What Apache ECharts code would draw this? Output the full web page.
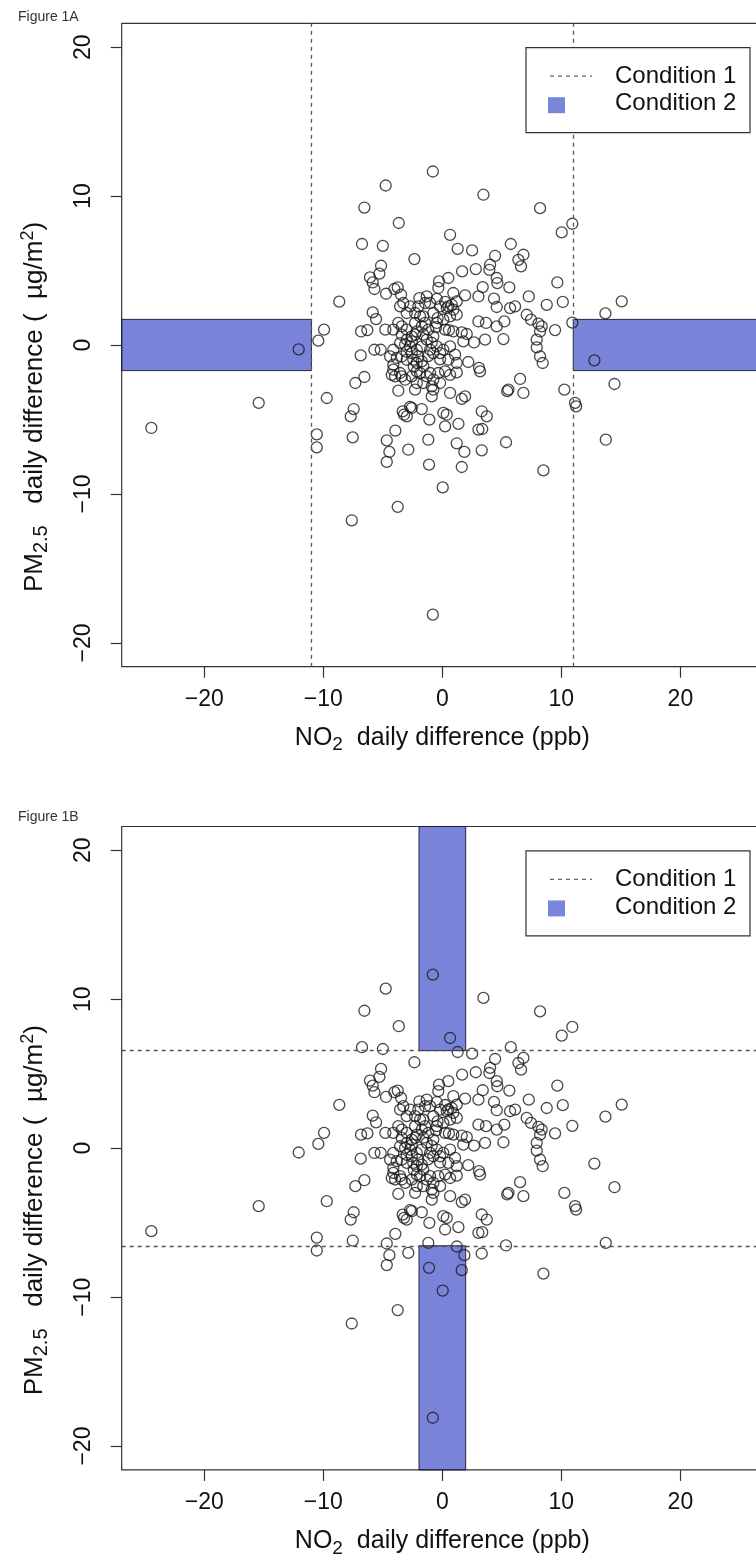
<!DOCTYPE html>
<html><head><meta charset="utf-8">
<script src="https://cdn.jsdelivr.net/npm/echarts@6/dist/echarts.min.js"></script>
<style>html,body{margin:0;padding:0;background:#fff}#c{width:756px;height:1559px}</style>
</head><body><div id="c"></div>
<script>
// ---- data ----
const no2Diff = [
 -24.45,-15.43,-12.07,-10.42,-9.94,-10.55,-10.55,-9.71,-8.66,-7.61,-7.53,-7.45,-7.7,-7.31,-6.55,-6.86,-6.83,-6.3,-6.55,-6.75,
 -4.76,-5.0,-3.66,-2.35,-5.15,-5.29,-6.08,-5.85,-5.71,-4.73,-4.03,-3.75,-3.47,-5.85,-5.57,-5.71,-5.18,-4.79,-0.8,3.45,
 8.21,10.92,10.03,0.65,1.29,2.5,5.75,4.43,6.39,6.81,6.61,4.01,3.95,2.81,1.66,0.5,-0.28,-0.34,4.57,4.62,
 5.63,3.39,0.92,1.91,3.03,4.34,9.66,7.26,8.77,10.12,15.07,13.7,10.92,12.77,9.47,8.35,8.21,8.07,7.09,7.45,
 7.93,7.93,8.21,8.43,5.13,4.57,5.69,6.11,5.21,4.57,3.67,3.03,3.59,2.66,1.76,0.92,2.18,3.08,3.17,1.21,
 0.65,1.63,1.91,5.55,6.53,6.81,10.25,11.15,11.24,14.46,13.73,3.31,3.73,3.03,3.35,5.35,1.21,0.37,0.23,1.35,
 -1.09,-1.18,-2.71,-1.73,-3.22,-0.89,-0.76,8.49,3.31,1.85,1.63,0.03,-1.12,-0.8,-3.95,-4.67,-4.45,-4.67,-2.86,-3.75,
 -3.7,-2.99,-2.57,-3.33,0.08,5.45,
 -1.93,-1.31,-0.47,0.23,0.79,1.21,-1.03,-1.45,-3.28,-0.19,0.5,
 -3.55,-2.71,-2.02,-2.99,-2.29,-1.87,-1.6,-0.76,0.37,0.92,0.65,1.21,0.08,
 -4.12,-3.7,-3.41,-2.99,-2.29,-2.15,-1.73,-1.45,-1.18,-0.47,-0.53,0.23,0.55,1.63,2.05,
 -3.41,-2.99,-2.57,-2.29,-2.57,-1.31,-0.76,-3.55,-3.13,-2.71,-1.73,0.65,
 -4.12,-4.39,-3.83,-3.41,-2.99,-2.57,-2.44,-2.15,-2.02,-0.76,-0.19,0.08,1.07,0.5,-1.03,-0.47,-0.19,
 -4.12,-4.12,-3.55,-4.25,-3.97,-3.41,-2.15,-1.73,-1.6,-2.15,-1.87,-1.03,1.21,0.23,0.65,-0.34,
 -3.13,-2.57,-1.31,-0.75,-1.6,-2.15,-0.89,-0.19,-2.29,
 -1.6,-0.9,-2.4,-1.2,-3.0,-0.4
];
const pm25Diff = [
 -5.57,-3.89,-0.29,0.29,1.03,-6.0,-6.87,-3.56,2.91,-11.77,-6.2,-4.3,-4.79,-2.55,-2.15,-0.7,0.91,1.0,9.23,6.78,
 10.71,6.66,8.19,5.77,5.32,4.79,4.54,4.2,3.76,3.44,3.76,3.87,3.38,2.19,1.74,-0.32,-0.32,1.03,11.65,10.09,
 9.19,8.14,7.56,7.4,6.46,6.35,6.78,5.99,5.72,6.06,5.28,5.39,5.05,5.1,4.94,4.5,4.27,3.83,4.5,4.16,
 3.87,3.89,3.49,3.33,3.26,3.11,4.2,3.26,2.7,2.89,2.93,2.12,1.5,-1.03,1.0,1.25,0.91,1.43,2.03,1.7,
 0.36,-0.16,-0.77,-1.21,0.4,2.55,2.48,2.59,1.58,1.25,1.48,1.58,0.36,0.17,0.24,0.91,-1.14,-1.54,-1.77,-1.84,
 -3.22,-3.62,-3.45,-3.0,-2.28,-3.22,-3.0,-3.89,-4.12,-2.62,-6.36,-4.45,-4.79,-5.68,-5.64,-6.53,-6.6,-4.68,-5.46,-5.3,
 -5.01,-6.36,-4.16,-4.3,-4.68,-3.45,-3.0,-8.42,-7.07,-7.18,-8.19,-9.56,-8.03,-18.1,-5.75,-6.4,-7.18,-7.85,-7.03,-10.87,
 -3.07,-4.79,-4.23,-4.46,-4.56,-3.1,
 3.15,3.26,3.1,2.9,2.7,2.93,2.82,2.82,2.82,2.59,2.6,
 2.59,2.59,2.59,2.15,2.15,1.92,1.92,2.15,2.48,2.37,1.92,2.04,1.7,
 1.03,1.48,1.25,1.03,1.48,0.91,1.25,1.48,1.03,1.48,1.2,1.03,1.0,0.85,0.74,
 0.69,0.36,0.58,0.69,0.24,0.36,0.58,0.13,0.02,-0.09,-0.09,-0.09,
 -0.32,-0.77,-0.87,-0.77,-0.99,-0.54,-0.99,-0.32,-0.77,-0.54,-0.54,-0.32,-0.65,-0.99,-0.32,-0.09,-0.96,
 -1.32,-1.66,-1.88,-2.0,-2.1,-2.1,-1.21,-1.1,-1.44,-1.77,-1.88,-1.88,-1.21,-1.77,-2.0,-1.88,
 -2.33,-2.11,-2.11,-2.32,-2.55,-2.55,-2.78,-2.55,-3.0,
 0.7,0.15,-1.45,-0.75,-0.45,1.8
];
const xTicks = [-20, -10, 0, 10, 20];
const yTicks = [-20, -10, 0, 10, 20];
const xRange = [-26.94, 26.94];
const yRange = [-21.6, 21.6];
const condA_no2Line = 11;     // Figure 1A, dashed vertical lines at +/- this NO2 value
const condA_pmBand = 1.72;    // Figure 1A, shaded band half-height (PM2.5)
const condB_pmLine = 6.55;    // Figure 1B, dashed horizontal lines
const condB_no2Band = 1.96;   // Figure 1B, shaded band half-width (NO2)
const legendLabels = ['Condition 1', 'Condition 2'];
const panelLabels = ['Figure 1A', 'Figure 1B'];

// ---- styles ----
const FONT = 'Liberation Sans, Arial, Helvetica, sans-serif';
const INK = '#111';
const AX = '#333';
const BAND_FILL = 'rgba(40,55,195,0.62)';
const BAND_EDGE = 'rgba(20,20,50,0.9)';
const LEG_SQ = 'rgb(122,134,217)';
const grids = [
  {left: 121.7, top: 23.3, width: 641.3, height: 643.4},
  {left: 121.7, top: 826.5, width: 641.3, height: 643.4}
];
const minus = v => (v < 0 ? '\u2212' + (-v) : String(v));
const pts = no2Diff.map((x, i) => [x, pm25Diff[i]]);

function xAxisFor(g) {
  return {
    type: 'value', gridIndex: g, min: xRange[0], max: xRange[1],
    axisLine: {show: false, onZero: false},
    axisTick: {show: true, inside: false, length: 11, customValues: xTicks, lineStyle: {color: AX, width: 1.2}},
    axisLabel: {customValues: xTicks, formatter: minus, fontSize: 23, color: INK, fontFamily: FONT, margin: 21},
    splitLine: {show: false},
    name: '{a|NO}{s|2}{a|  daily difference (ppb)}',
    nameLocation: 'middle', nameGap: 55,
    nameTextStyle: {fontSize: 25, color: INK, fontFamily: FONT, rich: {
      a: {fontSize: 25, color: INK, fontFamily: FONT},
      s: {fontSize: 19, color: INK, fontFamily: FONT, padding: [14, 0, 0, 0]}
    }}
  };
}
function yAxisFor(g) {
  return {
    type: 'value', gridIndex: g, min: yRange[0], max: yRange[1],
    axisLine: {show: false, onZero: false},
    axisTick: {show: true, inside: false, length: 11, customValues: yTicks, lineStyle: {color: AX, width: 1.2}},
    axisLabel: {customValues: yTicks, formatter: minus, fontSize: 23, color: INK, fontFamily: FONT, margin: 27, rotate: 90},
    splitLine: {show: false},
    name: '{a|PM}{s|2.5}{a|   daily difference (  \u00b5g/m}{p|2}{a|)}',
    nameLocation: 'middle', nameGap: 70, nameRotate: 90,
    nameTextStyle: {fontSize: 26, color: INK, fontFamily: FONT, padding: [0, 124, 0, 0], rich: {
      a: {fontSize: 26, color: INK, fontFamily: FONT},
      s: {fontSize: 20, color: INK, fontFamily: FONT, padding: [14, 0, 0, 0]},
      p: {fontSize: 18, color: INK, fontFamily: FONT, padding: [0, 0, 14, 0]}
    }}
  };
}
const pointStyle = {color: 'rgba(0,0,0,0)', borderColor: '#1a1a1a', borderWidth: 1.3};
const dashStyle = {type: [4, 4], color: '#555', width: 1.3};

function legendGroup(top) {
  return {
    type: 'group', children: [
      {type: 'rect', shape: {x: 526, y: top, width: 224, height: 85}, style: {fill: '#fff', stroke: AX, lineWidth: 1.2}, z: 10},
      {type: 'line', shape: {x1: 550, y1: top + 28.5, x2: 592, y2: top + 28.5}, style: {stroke: '#666', lineWidth: 1.3, lineDash: [4, 4]}, z: 11},
      {type: 'rect', shape: {x: 548, y: top + 49.5, width: 17, height: 16}, style: {fill: LEG_SQ}, z: 11},
      {type: 'text', x: 615, y: top + 28.5, style: {text: legendLabels[0], font: '24px ' + FONT, fill: INK, verticalAlign: 'middle'}, z: 11},
      {type: 'text', x: 615, y: top + 56, style: {text: legendLabels[1], font: '24px ' + FONT, fill: INK, verticalAlign: 'middle'}, z: 11}
    ]
  };
}

const option = {
  animation: false,
  backgroundColor: '#fff',
  grid: grids.map(g => Object.assign({show: true, borderColor: AX, borderWidth: 1.2, backgroundColor: 'transparent', containLabel: false, outerBoundsMode: 'none'}, g)),
  xAxis: [xAxisFor(0), xAxisFor(1)],
  yAxis: [yAxisFor(0), yAxisFor(1)],
  series: [
    {type: 'scatter', xAxisIndex: 0, yAxisIndex: 0, data: pts, symbol: 'circle', symbolSize: 11, itemStyle: pointStyle, silent: true, z: 2,
     markLine: {silent: true, symbol: ['none', 'none'], label: {show: false}, lineStyle: dashStyle,
       data: [{xAxis: -condA_no2Line}, {xAxis: condA_no2Line}]}},
    {type: 'scatter', xAxisIndex: 0, yAxisIndex: 0, data: [], silent: true, z: 3,
     markArea: {silent: true, itemStyle: {color: BAND_FILL, borderColor: BAND_EDGE, borderWidth: 1},
       data: [
         [{coord: [xRange[0], -condA_pmBand]}, {coord: [-condA_no2Line, condA_pmBand]}],
         [{coord: [condA_no2Line, -condA_pmBand]}, {coord: [xRange[1], condA_pmBand]}]
       ]}},
    {type: 'scatter', xAxisIndex: 1, yAxisIndex: 1, data: pts, symbol: 'circle', symbolSize: 11, itemStyle: pointStyle, silent: true, z: 2,
     markLine: {silent: true, symbol: ['none', 'none'], label: {show: false}, lineStyle: dashStyle,
       data: [{yAxis: -condB_pmLine}, {yAxis: condB_pmLine}]}},
    {type: 'scatter', xAxisIndex: 1, yAxisIndex: 1, data: [], silent: true, z: 3,
     markArea: {silent: true, itemStyle: {color: BAND_FILL, borderColor: BAND_EDGE, borderWidth: 1},
       data: [
         [{coord: [-condB_no2Band, condB_pmLine]}, {coord: [condB_no2Band, yRange[1]]}],
         [{coord: [-condB_no2Band, yRange[0]]}, {coord: [condB_no2Band, -condB_pmLine]}]
       ]}}
  ],
  graphic: [
    {type: 'text', x: 18, y: 10, style: {text: panelLabels[0], font: '14px ' + FONT, fill: '#333'}},
    {type: 'text', x: 18, y: 810, style: {text: panelLabels[1], font: '14px ' + FONT, fill: '#333'}},
    legendGroup(47.7),
    legendGroup(850.9)
  ]
};
const chart = echarts.init(document.getElementById('c'), null, {renderer: 'canvas'});
chart.setOption(option);
</script>
</body></html>
